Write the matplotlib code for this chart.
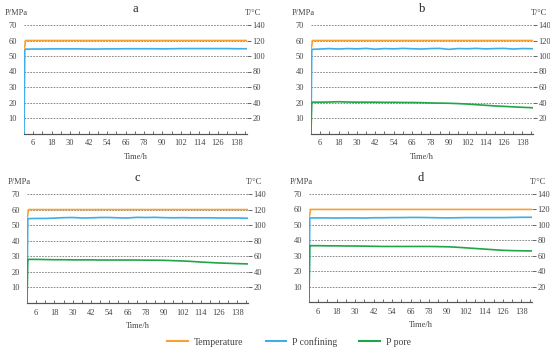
import matplotlib
matplotlib.use('Agg')
import matplotlib.pyplot as plt
from matplotlib.lines import Line2D

plt.rcParams['font.family'] = ['Liberation Serif', 'DejaVu Serif']

# time axis (h)
time = [0, 0.5, 1, 6, 12, 18, 24, 30, 36, 42, 48, 54, 60, 66, 72, 78, 84, 90,
        96, 102, 108, 114, 120, 126, 132, 138, 145]

# temperature (deg C), same in every test
temperature = [109, 113, 120] + [120] * 24

# confining pressure (MPa)
conf_a = [0, 54.3, 54.4, 54.5, 54.5, 54.6, 54.6, 54.6, 54.6, 54.5, 54.5, 54.6, 54.6, 54.7,
          54.7, 54.7, 54.7, 54.6, 54.7, 54.8, 54.8, 54.8, 54.8, 54.8, 54.8, 54.7, 54.7]
conf_b = [0, 54.2, 54.3, 54.5, 54.8, 54.5, 54.8, 54.6, 54.9, 54.4, 54.8, 54.6, 54.9, 54.7,
          54.5, 54.8, 54.9, 54.3, 54.8, 54.7, 54.9, 54.6, 54.8, 54.9, 54.5, 54.8, 54.7]
conf_c = [0, 54.0, 54.2, 54.3, 54.3, 54.5, 54.8, 54.9, 54.6, 54.7, 54.9, 54.9, 54.7, 54.6,
          55.0, 54.9, 55.0, 54.8, 54.7, 54.8, 54.7, 54.7, 54.7, 54.6, 54.6, 54.6, 54.4]
conf_d = [0, 54.5, 54.5, 54.5, 54.5, 54.4, 54.5, 54.5, 54.4, 54.6, 54.6, 54.7, 54.7, 54.8,
          54.8, 54.7, 54.6, 54.5, 54.6, 54.7, 54.7, 54.7, 54.7, 54.7, 54.8, 54.9, 54.9]

# pore pressure (MPa), none in test a
pore_b = [0, 20.2, 20.2, 20.2, 20.3, 20.5, 20.3, 20.2, 20.2, 20.2, 20.1, 20.1, 20.0, 20.0,
          19.9, 19.7, 19.6, 19.5, 19.3, 19.0, 18.6, 18.2, 17.8, 17.5, 17.2, 16.9, 16.6]
pore_c = [0, 28.0, 28.0, 28.0, 27.9, 27.8, 27.8, 27.7, 27.7, 27.7, 27.6, 27.6, 27.6, 27.6,
          27.6, 27.5, 27.5, 27.4, 27.2, 27.0, 26.7, 26.3, 26.0, 25.7, 25.5, 25.3, 25.1]
pore_d = [0, 36.5, 36.5, 36.5, 36.4, 36.4, 36.3, 36.3, 36.2, 36.1, 36.0, 36.0, 36.0, 36.0,
          36.0, 36.0, 35.9, 35.8, 35.5, 35.1, 34.7, 34.3, 33.9, 33.5, 33.3, 33.2, 33.1]

panels = [
    ('a', conf_a, None),
    ('b', conf_b, pore_b),
    ('c', conf_c, pore_c),
    ('d', conf_d, pore_d),
]

p_ticks = [10, 20, 30, 40, 50, 60, 70]
t_ticks = [20, 40, 60, 80, 100, 120, 140]
x_ticks = list(range(6, 139, 12))

c_temp = '#F7A036'
c_conf = '#3DAEE6'
c_pore = '#20A548'
c_text = '#444444'

W, H = 550, 351
# axes boxes in pixels: left, right, top, bottom
boxes = [(24, 247, 25, 133.5), (311, 533, 25, 133.5),
         (27, 248, 194, 303), (309, 532, 194, 302)]

fig = plt.figure(figsize=(5.5, 3.51), dpi=100)

for (name, conf, pore), (l, r, t, b) in zip(panels, boxes):
    ax = fig.add_axes([l / W, 1 - b / H, (r - l) / W, (b - t) / H])
    ax2 = ax.twinx()

    ax.plot(time, conf, color=c_conf, lw=1.2, zorder=3)
    if pore is not None:
        ax.plot(time, pore, color=c_pore, lw=1.2, zorder=3)
    ax2.plot(time, temperature, color=c_temp, lw=1.2, zorder=3)

    ax.set_xlim(0, 145)
    ax.set_ylim(0, 70)
    ax2.set_ylim(0, 140)

    ax.set_yticks(p_ticks)
    ax2.set_yticks(t_ticks)
    ax.set_xticks(x_ticks)
    ax.set_xticks(list(range(0, 145, 6)), minor=True)

    ax.grid(True, axis='y', linestyle=(0, (2, 1.5)), color='#777777', lw=0.6)

    for a_ in (ax, ax2):
        for s in ('top', 'left', 'right'):
            a_.spines[s].set_visible(False)
        a_.spines['bottom'].set_color('#555555')
        a_.spines['bottom'].set_linewidth(0.8)

    ax.tick_params(axis='y', length=0, pad=5, labelsize=6, colors=c_text)
    ax2.tick_params(axis='y', length=3, width=0.7, color='#666666', pad=1,
                    labelsize=6, labelcolor=c_text)
    ax.tick_params(axis='x', which='both', direction='in', length=2, width=0.6,
                   color='#555555', labelsize=6, labelcolor=c_text, pad=4)

    ax.set_xlabel('Time/h', fontsize=6, color=c_text, labelpad=4)

    ax.text(-0.036, 1.11, 'P/MPa', transform=ax.transAxes, ha='center', va='center',
            fontsize=6, color=c_text)
    ax.text(1.025, 1.11, 'T/°C', transform=ax.transAxes, ha='center', va='center',
            fontsize=6, color=c_text)
    ax.text(0.5, 1.15, name, transform=ax.transAxes, ha='center', va='center',
            fontsize=9, color='#222222')

handles = [Line2D([], [], color=c_temp, lw=1.5),
           Line2D([], [], color=c_conf, lw=1.5),
           Line2D([], [], color=c_pore, lw=1.5)]
fig.legend(handles, ['Temperature', 'P confining', 'P pore'], loc='center',
           bbox_to_anchor=(289 / W, 1 - 342 / H), ncol=3, frameon=False, fontsize=7,
           handlelength=2.1, columnspacing=2.3, handletextpad=0.6,
           labelcolor=c_text)

fig.savefig('out.png', dpi=100, facecolor='white')
